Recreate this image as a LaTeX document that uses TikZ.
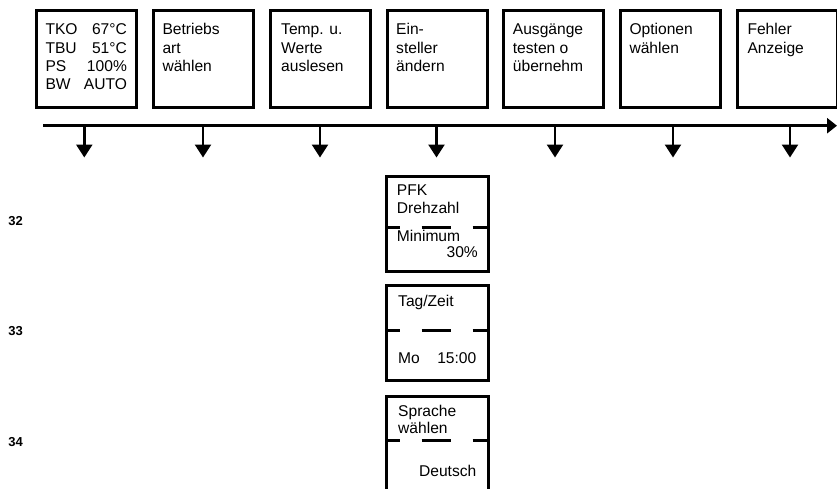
\documentclass[tikz,border=0pt]{standalone}
\usepackage{fontspec}
\setmainfont{Liberation Sans}
\usetikzlibrary{arrows.meta}
\tikzset{
  box/.style={draw, line width=3pt, minimum width=100pt, minimum height=97.7pt, inner sep=0pt},
  lbox/.style={draw, line width=3pt, minimum width=101.6pt, minimum height=95pt, inner sep=0pt},
  sepline/.style={line width=3pt, dash pattern=on 15pt off 21.3pt on 29pt off 22pt},
  txt/.style={anchor=base west, inner sep=0pt, font=\fontsize{15.6}{18.3}\selectfont},
  rtxt/.style={anchor=base east, inner sep=0pt, font=\fontsize{15.6}{18.3}\selectfont},
  num/.style={anchor=base west, inner sep=0pt, font=\fontsize{13}{15}\selectfont\bfseries},
  mainline/.style={line width=2.5pt, -{Triangle[length=10pt,width=15pt]}},
  downarrow/.style={line width=2.5pt, -{Triangle[length=13pt,width=16pt]}},
}
\newcommand{\lineset}[2]{\vtop{\baselineskip=#1\relax #2}}
\begin{document}
\begin{tikzpicture}[x=1pt, y=-1pt]
\useasboundingbox (0,0) rectangle (837,488);

% top boxes
\node[box] (b1) at (86.7,58.85) {};
\node[box] (b2) at (203.5,58.85) {};
\node[box] (b3) at (320.3,58.85) {};
\node[box] (b4) at (437.1,58.85) {};
\node[box] (b5) at (553.9,58.85) {};
\node[box] (b6) at (670.7,58.85) {};
\node[box] (b7) at (787.5,58.85) {};

\node[txt] (t1) at (45.3,34.6) {\lineset{18.4pt}{%
  \hbox to 81.4pt{TKO\hfil 67°C}%
  \hbox to 81.4pt{TBU\hfil 51°C}%
  \hbox to 81.4pt{PS\hfil 100\%}%
  \hbox to 81.4pt{BW\hfil AUTO}}};
\node[txt] (t2) at (162.3,34.6) {\lineset{18.4pt}{\hbox{Betriebs}\hbox{art}\hbox{wählen}}};
\node[txt] (t3) at (281,34.6) {\lineset{18.4pt}{\hbox{Temp. u.}\hbox{Werte}\hbox{auslesen}}};
\node[txt] (t4) at (396,34.6) {\lineset{18.4pt}{\hbox{Ein-}\hbox{steller}\hbox{ändern}}};
\node[txt] (t5) at (512.7,34.6) {\lineset{18.4pt}{\hbox{Ausgänge}\hbox{testen o}\hbox{übernehm}}};
\node[txt] (t6) at (629.3,34.6) {\lineset{18.4pt}{\hbox{Optionen}\hbox{wählen}}};
\node[txt] (t7) at (747.3,34.6) {\lineset{18.4pt}{\hbox{Fehler}\hbox{Anzeige}}};

% main line
\coordinate (ls) at (43.3,125.7);
\coordinate (le) at (837,125.7);
\draw[mainline] (ls) -- (le);

% down arrows
\foreach \i/\x in {1/84.3, 2/203, 3/320, 4/436.5, 5/555, 6/673, 7/790} {
  \coordinate (a\i) at (\x,125.7);
  \coordinate (e\i) at (\x,157.5);
  \draw[downarrow] (a\i) -- (e\i);
}

% lower boxes
\node[lbox] (bA) at (437.5,224.2) {};
\node[lbox] (bB) at (437.5,332.5) {};
\node[lbox] (bC) at (437.5,444.2) {};

\draw[sepline] ([yshift=-52.3pt]bA.north west) -- ([yshift=-52.3pt]bA.north east);
\draw[sepline] ([yshift=-47.3pt]bB.north west) -- ([yshift=-47.3pt]bB.north east);
\draw[sepline] ([yshift=-45pt]bC.north west) -- ([yshift=-45pt]bC.north east);

\node[txt] (tA1) at (396.7,195.7) {\lineset{17.4pt}{\hbox{PFK}\hbox{Drehzahl}}};
\node[txt] (tA2) at (396.7,241) {Minimum};
\node[rtxt] (tA3) at (478,257.7) {30\%};

\node[txt] (tB1) at (398,306) {Tag/Zeit};
\node[txt] (tB2) at (398,363.7) {Mo};
\node[rtxt] (tB3) at (476.5,363.7) {15:00};

\node[txt] (tC1) at (398,416) {\lineset{17.5pt}{\hbox{Sprache}\hbox{wählen}}};
\node[rtxt] (tC2) at (476.5,476.3) {Deutsch};

% step numbers
\node[num] (n32) at (8.3,225) {32};
\node[num] (n33) at (8.3,335.5) {33};
\node[num] (n34) at (8.3,446) {34};
\end{tikzpicture}
\end{document}
